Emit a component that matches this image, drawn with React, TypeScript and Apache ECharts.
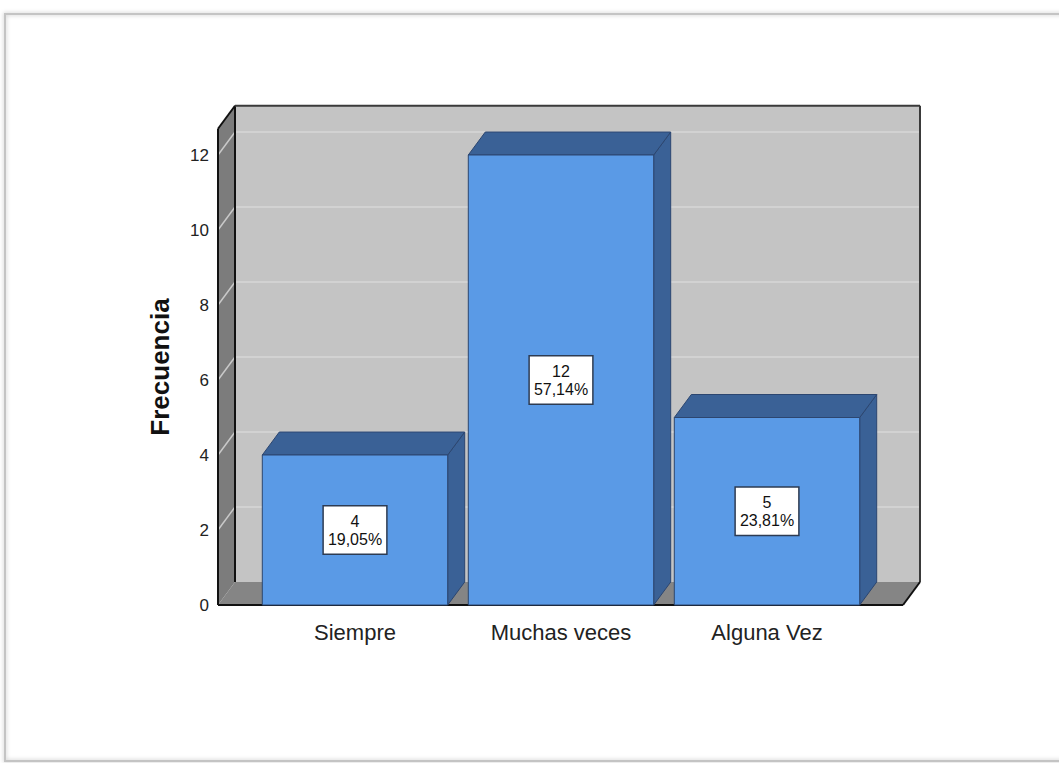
import React, { useEffect, useRef } from "react";
import * as echarts from "echarts";

const categories = ["Siempre", "Muchas veces", "Alguna Vez"];
const counts = [4, 12, 5];
const yMin = 0;
const yMax = 12;
const yInterval = 2;
const yTickValues = [0, 2, 4, 6, 8, 10, 12];
const boxTopValue = 12.7;

const FONT = "Arial, 'Liberation Sans', Helvetica, sans-serif";
const W = 1059;
const H = 763;
const GL = 252;
const GW = 618;
const GT = 155;
const GBY = 605;
const DX = 17;
const DY = -23;
const AXIS_OFF = 34;

const total = counts.reduce((a, b) => a + b, 0);
const pct = counts.map((c) => ((c / total) * 100).toFixed(2).replace(".", ",") + "%");

export default function App() {
  const ref = useRef<HTMLDivElement>(null);
  useEffect(() => {
    document.body.style.margin = "0";
    const chart = echarts.init(ref.current!, null, { renderer: "svg" });
    const option: any = {
      animation: false,
      backgroundColor: "#ffffff",
      grid: { left: GL, width: GW, top: GT, bottom: H - GBY, containLabel: false },
      xAxis: {
        type: "category",
        data: categories,
        axisLine: { show: false },
        axisTick: { show: false },
        axisLabel: { fontSize: 22, color: "#222", fontFamily: FONT, margin: 16 },
        splitLine: { show: false },
      },
      yAxis: {
        type: "value",
        min: yMin,
        max: yMax,
        interval: yInterval,
        offset: AXIS_OFF,
        name: "Frecuencia",
        nameLocation: "middle",
        nameGap: 45,
        nameTextStyle: {
          fontSize: 26,
          fontWeight: "bold",
          color: "#111",
          fontFamily: FONT,
          padding: [0, 0, 0, 26],
        },
        axisLine: { show: false },
        axisTick: { show: false },
        splitLine: { show: false },
        axisLabel: { fontSize: 17, color: "#222", fontFamily: FONT, margin: 9 },
      },
      series: [
        {
          type: "custom",
          z: 10,
          data: counts.map((v, i) => [i, v]),
          renderItem: (params: any, api: any) => {
            const ci = api.value(0);
            const v = api.value(1);
            const top = api.coord([ci, v]);
            const base = api.coord([ci, 0]);
            const mid = api.coord([ci, v / 2]);
            const w = api.size([1, 0])[0] * 0.9;
            const x0 = top[0] - w / 2;
            const x1 = top[0] + w / 2;
            const yt = top[1];
            const yb = base[1];
            const dark = "#3a6196";
            const edge = "#2c4670";
            return {
              type: "group",
              children: [
                {
                  type: "polygon",
                  shape: { points: [[x1, yt], [x1 + DX, yt + DY], [x1 + DX, yb + DY], [x1, yb]] },
                  style: { fill: dark, stroke: edge, lineWidth: 1 },
                },
                {
                  type: "polygon",
                  shape: { points: [[x0, yt], [x0 + DX, yt + DY], [x1 + DX, yt + DY], [x1, yt]] },
                  style: { fill: dark, stroke: edge, lineWidth: 1 },
                },
                {
                  type: "rect",
                  shape: { x: x0, y: yt, width: w, height: yb - yt },
                  style: { fill: "#5a9ae6", stroke: edge, lineWidth: 1 },
                },
                {
                  type: "text",
                  x: mid[0],
                  y: mid[1],
                  style: {
                    text: String(counts[params.dataIndex]) + "\n" + pct[params.dataIndex],
                    align: "center",
                    verticalAlign: "middle",
                    fontSize: 16,
                    fontFamily: FONT,
                    fill: "#111",
                    lineHeight: 18,
                    backgroundColor: "#ffffff",
                    borderColor: "#2d3b52",
                    borderWidth: 1.5,
                    padding: [6, 4, 5, 4],
                  },
                },
              ],
            };
          },
        },
      ],
    };
    chart.setOption(option);

    const yp = (v: number) => chart.convertToPixel({ yAxisIndex: 0 }, v) as number;
    const fl = GL - AXIS_OFF;
    const fr = GL + GW + 33;
    const yTopF = yp(boxTopValue);
    const yBot = yp(0);
    const g: any[] = [];
    g.push({
      type: "rect",
      silent: true,
      z: 1,
      shape: { x: fl + DX, y: yTopF + DY, width: fr - fl, height: yBot - yTopF },
      style: { fill: "#c4c4c4" },
    });
    yTickValues.forEach((v) => {
      if (v === 0) return;
      const y = yp(v) + DY;
      g.push({
        type: "line",
        silent: true,
        z: 2,
        shape: { x1: fl + DX, y1: y, x2: fr + DX, y2: y },
        style: { stroke: "#d2d2d2", lineWidth: 2 },
      });
    });
    g.push({
      type: "polygon",
      silent: true,
      z: 3,
      shape: { points: [[fl, yBot], [fl + DX, yBot + DY], [fr + DX, yBot + DY], [fr, yBot]] },
      style: { fill: "#858585" },
    });
    g.push({
      type: "polygon",
      silent: true,
      z: 3,
      shape: { points: [[fl, yTopF], [fl + DX, yTopF + DY], [fl + DX, yBot + DY], [fl, yBot]] },
      style: { fill: "#7c7c7c" },
    });
    yTickValues.forEach((v) => {
      if (v === 0) return;
      const y = yp(v);
      g.push({
        type: "line",
        silent: true,
        z: 4,
        shape: { x1: fl, y1: y, x2: fl + DX, y2: y + DY },
        style: { stroke: "#c9c9c9", lineWidth: 1.5 },
      });
    });
    const edges: number[][] = [
      [fl + DX, yTopF + DY, fl + DX, yBot + DY],
      [fl, yTopF, fl, yBot],
      [fl, yTopF, fl + DX, yTopF + DY],
      [fl + DX, yTopF + DY, fr + DX, yTopF + DY],
      [fr + DX, yTopF + DY, fr + DX, yBot + DY],
      [fl, yBot, fr, yBot],
      [fr, yBot, fr + DX, yBot + DY],
    ];
    edges.forEach((e, i) => {
      g.push({
        type: "line",
        silent: true,
        z: 5,
        shape: { x1: e[0], y1: e[1], x2: e[2], y2: e[3] },
        style: { stroke: i === 3 || i === 4 ? "#3a3a3a" : "#111", lineWidth: 2 },
      });
    });
    g.push({
      type: "rect",
      silent: true,
      z: 0,
      shape: { x: 5, y: 14, width: W + 20, height: 747 },
      style: {
        fill: "none",
        stroke: "#c4c4c4",
        lineWidth: 2,
        shadowBlur: 4,
        shadowColor: "rgba(0,0,0,0.25)",
      },
    });
    chart.setOption({ graphic: g });

    return () => chart.dispose();
  }, []);
  return <div ref={ref} style={{ width: W, height: H, position: "fixed", left: 0, top: 0 }} />;
}
